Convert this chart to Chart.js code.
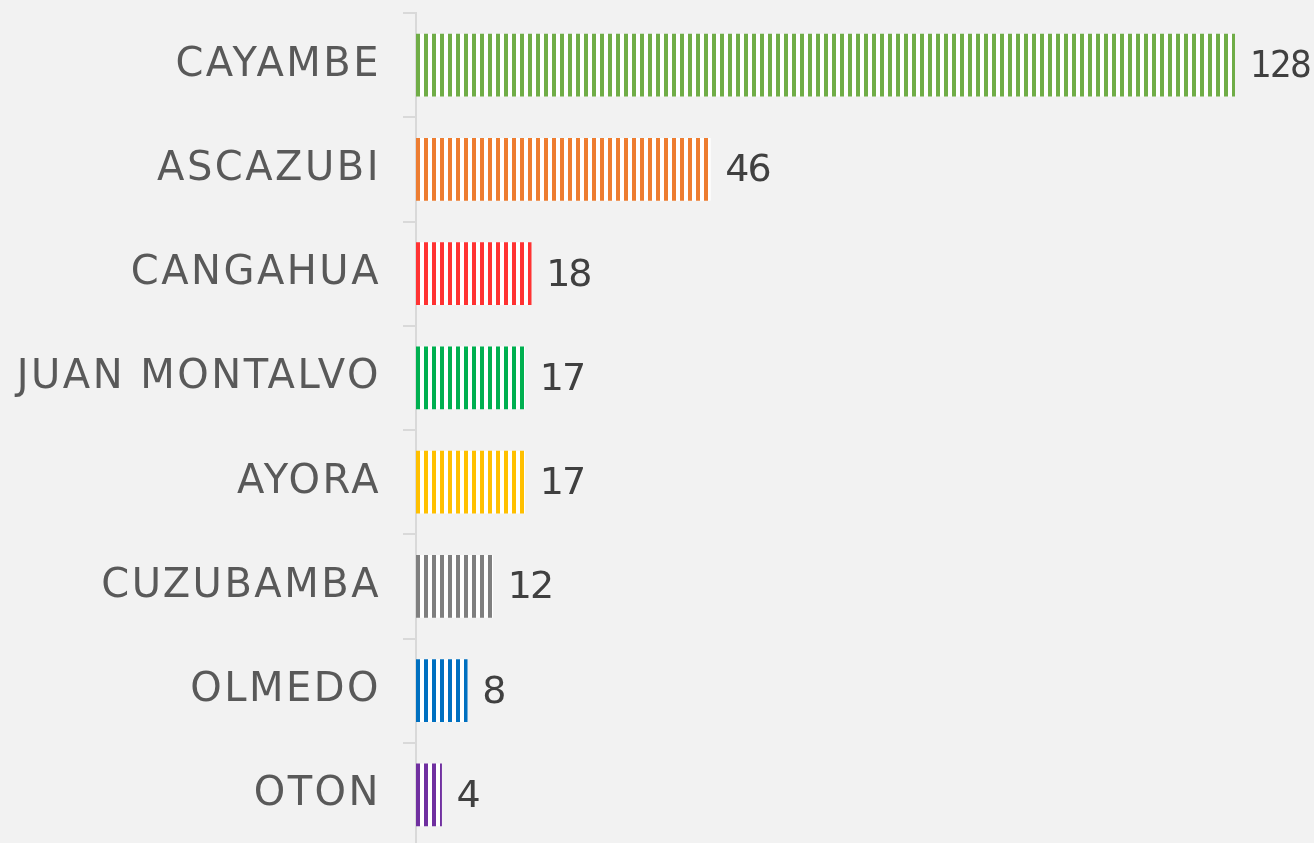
<!DOCTYPE html>
<html>
<head>
<meta charset="utf-8">
<script src="https://cdn.jsdelivr.net/npm/chart.js@4"></script>
<style>
html,body{margin:0;padding:0;background:#f2f2f2;overflow:hidden;}
#wrap{width:1314px;height:847px;}
</style>
</head>
<body>
<div id="wrap"><canvas id="c" width="1314" height="847"></canvas></div>
<script>
const categories = ["CAYAMBE","ASCAZUBI","CANGAHUA","JUAN MONTALVO","AYORA","CUZUBAMBA","OLMEDO","OTON"];
const values = [128,46,18,17,17,12,8,4];
const barColors = ["#70ad47","#ed7d31","#ff3333","#00b050","#ffc000","#7f7f7f","#0070c0","#7030a0"];

function stripe(color){
  const p = document.createElement('canvas');
  p.width = 8; p.height = 8;
  const g = p.getContext('2d');
  g.fillStyle = '#ffffff'; g.fillRect(0,0,8,8);
  g.fillStyle = color; g.fillRect(0,0,4,8);
  return g.createPattern(p,'repeat');
}

const spacingPlugin = {
  id:'spacing',
  beforeDraw(chart){ chart.ctx.letterSpacing = '2.5px'; }
};

const labelPlugin = {
  id:'vals',
  afterDatasetsDraw(chart){
    const ctx = chart.ctx;
    const meta = chart.getDatasetMeta(0);
    ctx.save();
    ctx.letterSpacing = '-2px';
    ctx.font = '38px "DejaVu Sans"';
    ctx.fillStyle = '#404040';
    ctx.textAlign = 'left';
    ctx.textBaseline = 'middle';
    meta.data.forEach((bar,i)=>{
      const x = bar.x + 15;
      ctx.fillText(String(values[i]), x, bar.y + 2, chart.width - 4 - x);
    });
    ctx.restore();
  }
};

new Chart(document.getElementById('c'), {
  type:'bar',
  data:{
    labels:categories,
    datasets:[{
      data:values,
      backgroundColor:barColors.map(stripe),
      borderWidth:0,
      barThickness:62
    }]
  },
  options:{
    indexAxis:'y',
    responsive:false,
    animation:false,
    layout:{padding:{top:13,right:79,left:0,bottom:0}},
    plugins:{legend:{display:false},tooltip:{enabled:false}},
    scales:{
      x:{display:false,min:0,max:128},
      y:{
        afterFit(s){ s.width = 416; s.paddingTop = 0; s.paddingBottom = 0; },
        grid:{offset:true,drawOnChartArea:false,color:'#d9d9d9',lineWidth:2,tickLength:13},
        border:{color:'#d9d9d9',width:2},
        ticks:{color:'#595959',font:{family:'"DejaVu Sans"',size:40},padding:22}
      }
    }
  },
  plugins:[spacingPlugin,labelPlugin]
});
</script>
</body>
</html>
